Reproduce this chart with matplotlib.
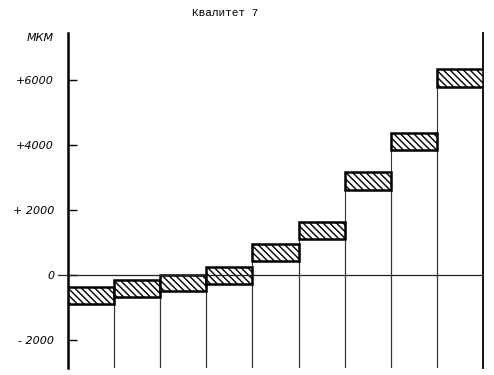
import matplotlib
matplotlib.use("Agg")
import matplotlib.pyplot as plt
import numpy as np

# tolerance fields, micrometres
field_lower = [-890, -675, -475, -275, 440, 1105, 2615, 3845, 5770]
field_upper = [-350, -145, 0, 245, 950, 1625, 3160, 4375, 6320]
tick_values = [6000, 4000, 2000, 0, -2000]
tick_labels = ["+6000", "+4000", "+ 2000", "0", "- 2000"]
title_text = "Квалитет 7"
unit_text = "МКМ"

Y_MIN, Y_MAX = -2844, 7426

plt.rcParams["hatch.linewidth"] = 1.0

fig = plt.figure(figsize=(4.94, 3.75), dpi=100)
ax = fig.add_axes([68 / 494, 1 - 368 / 375, 415 / 494, 335 / 375])

lower = np.array(field_lower)
upper = np.array(field_upper)
positions = np.arange(len(lower)) + 0.5

# columns under each field (bottom edge pushed out of view)
column_base = -4000
ax.bar(positions, lower - column_base, bottom=column_base, width=1.0,
       fill=False, edgecolor="#333333", linewidth=0.8, zorder=2)

# hatched tolerance fields
ax.bar(positions, upper - lower, bottom=lower, width=1.0,
       facecolor="white", edgecolor="black", linewidth=1.8,
       hatch="\\" * 5, zorder=3)

# zero line, a bit past the left axis
ax.plot([-0.025, 1], [0, 0], color="#222222", linewidth=0.9,
        transform=ax.get_yaxis_transform(), clip_on=False, zorder=4)

ax.set_xlim(0, len(lower))
ax.set_ylim(Y_MIN, Y_MAX)
ax.set_xticks([])
ax.set_yticks(tick_values)
ax.set_yticklabels(tick_labels, fontstyle="italic", fontsize=8,
                   family="DejaVu Sans")
ax.tick_params(axis="y", direction="in", length=6.5, width=1.0, pad=10)

for side in ("top", "bottom"):
    ax.spines[side].set_visible(False)
ax.spines["left"].set_linewidth(1.8)
ax.spines["right"].set_linewidth(1.3)

ax.text(-0.034, 7280, unit_text, transform=ax.get_yaxis_transform(),
        ha="right", va="center", fontsize=8, fontstyle="italic")

fig.text(225 / 494, 1 - 13 / 375, title_text, ha="center", va="center",
         fontsize=8, family="Liberation Mono")

fig.savefig("out.png", dpi=100)
plt.close(fig)
